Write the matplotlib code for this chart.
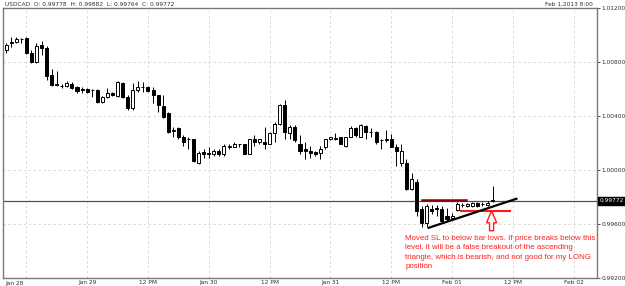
import numpy as np
import matplotlib.pyplot as plt
from matplotlib.patches import Polygon
import matplotlib.transforms as mtransforms

# USDCAD H1 bars, Jan 28 08:00 .. Feb 1 08:00
opens = [1.00888, 1.00940, 1.00947, 1.00970, 1.00977, 1.00865, 1.00798, 1.00925, 1.00903, 1.00702,
         1.00627, 1.00620, 1.00620, 1.00635, 1.00613, 1.00598, 1.00598, 1.00590, 1.00590, 1.00501,
         1.00538, 1.00568, 1.00546, 1.00642, 1.00538, 1.00457, 1.00590, 1.00613, 1.00613, 1.00590,
         1.00553, 1.00471, 1.00419, 1.00286, 1.00308, 1.00241, 1.00226, 1.00226, 1.00055, 1.00137,
         1.00129, 1.00115, 1.00144, 1.00115, 1.00174, 1.00174, 1.00189, 1.00189, 1.00122, 1.00226,
         1.00204, 1.00211, 1.00196, 1.00271, 1.00338, 1.00479, 1.00271, 1.00315, 1.00196, 1.00159,
         1.00144, 1.00137, 1.00129, 1.00167, 1.00233, 1.00233, 1.00241, 1.00181, 1.00248, 1.00308,
         1.00248, 1.00323, 1.00278, 1.00278, 1.00219, 1.00219, 1.00233, 1.00167, 1.00055, 1.00055,
         0.99862, 0.99914, 0.99713, 0.99609, 0.99713, 0.99720, 0.99713, 0.99661, 0.99646, 0.99706,
         0.99743, 0.99735, 0.99735, 0.99758, 0.99750, 0.99743, 0.99778]
highs = [1.00940, 1.00984, 1.00984, 1.00977, 1.00984, 1.00888, 1.00940, 1.00955, 1.00917, 1.00746,
         1.00732, 1.00635, 1.00657, 1.00650, 1.00620, 1.00613, 1.00605, 1.00598, 1.00598, 1.00546,
         1.00605, 1.00575, 1.00657, 1.00650, 1.00553, 1.00642, 1.00657, 1.00650, 1.00620, 1.00613,
         1.00553, 1.00553, 1.00427, 1.00315, 1.00315, 1.00256, 1.00241, 1.00233, 1.00144, 1.00159,
         1.00167, 1.00152, 1.00152, 1.00189, 1.00196, 1.00211, 1.00196, 1.00196, 1.00233, 1.00256,
         1.00233, 1.00315, 1.00278, 1.00352, 1.00486, 1.00516, 1.00330, 1.00330, 1.00256, 1.00204,
         1.00181, 1.00144, 1.00181, 1.00233, 1.00248, 1.00271, 1.00248, 1.00248, 1.00323, 1.00315,
         1.00338, 1.00330, 1.00308, 1.00286, 1.00233, 1.00293, 1.00263, 1.00189, 1.00189, 1.00085,
         0.99981, 0.99936, 0.99735, 0.99750, 0.99743, 0.99743, 0.99735, 0.99720, 0.99683, 0.99765,
         0.99758, 0.99758, 0.99765, 0.99765, 0.99765, 0.99772, 0.99882]
lows = [1.00865, 1.00910, 1.00940, 1.00940, 1.00858, 1.00791, 1.00791, 1.00851, 1.00665, 1.00620,
        1.00620, 1.00605, 1.00613, 1.00598, 1.00568, 1.00568, 1.00568, 1.00538, 1.00494, 1.00494,
        1.00531, 1.00546, 1.00538, 1.00531, 1.00442, 1.00442, 1.00575, 1.00575, 1.00575, 1.00494,
        1.00427, 1.00382, 1.00271, 1.00241, 1.00233, 1.00181, 1.00159, 1.00062, 1.00048, 1.00092,
        1.00092, 1.00107, 1.00107, 1.00107, 1.00159, 1.00167, 1.00174, 1.00115, 1.00115, 1.00181,
        1.00196, 1.00159, 1.00189, 1.00204, 1.00330, 1.00233, 1.00233, 1.00204, 1.00122, 1.00085,
        1.00092, 1.00107, 1.00085, 1.00159, 1.00219, 1.00219, 1.00189, 1.00174, 1.00241, 1.00248,
        1.00241, 1.00233, 1.00241, 1.00196, 1.00159, 1.00211, 1.00167, 1.00033, 1.00033, 0.99854,
        0.99854, 0.99661, 0.99579, 0.99579, 0.99676, 0.99661, 0.99609, 0.99624, 0.99631, 0.99698,
        0.99728, 0.99728, 0.99728, 0.99728, 0.99735, 0.99735, 0.99764]
closes = [1.00925, 1.00947, 1.00970, 1.00970, 1.00865, 1.00798, 1.00917, 1.00903, 1.00694, 1.00627,
          1.00635, 1.00620, 1.00642, 1.00605, 1.00583, 1.00590, 1.00575, 1.00590, 1.00501, 1.00538,
          1.00568, 1.00553, 1.00650, 1.00538, 1.00457, 1.00590, 1.00613, 1.00613, 1.00583, 1.00553,
          1.00479, 1.00390, 1.00278, 1.00300, 1.00241, 1.00204, 1.00233, 1.00070, 1.00129, 1.00122,
          1.00115, 1.00144, 1.00115, 1.00181, 1.00174, 1.00189, 1.00189, 1.00122, 1.00226, 1.00204,
          1.00226, 1.00196, 1.00271, 1.00338, 1.00479, 1.00278, 1.00315, 1.00219, 1.00144, 1.00144,
          1.00129, 1.00122, 1.00159, 1.00226, 1.00241, 1.00233, 1.00196, 1.00241, 1.00308, 1.00256,
          1.00330, 1.00278, 1.00278, 1.00211, 1.00219, 1.00233, 1.00167, 1.00144, 1.00144, 0.99862,
          0.99936, 0.99698, 0.99609, 0.99735, 0.99698, 0.99713, 0.99624, 0.99639, 0.99661, 0.99750,
          0.99743, 0.99750, 0.99758, 0.99735, 0.99750, 0.99758, 0.99772]

last_price = 0.99772
title = "USDCAD  O: 0.99778  H: 0.99882  L: 0.99764  C: 0.99772"
x_ticks = [16, 28, 40, 52, 64, 76, 88, 100, 112]
x_labels = ["Jan 29", "12 PM", "Jan 30", "12 PM", "Jan 31", "12 PM", "Feb 01", "12 PM", "Feb 02"]
y_ticks = [0.992, 0.996, 1.000, 1.004, 1.008, 1.012]
y_labels = ["0.99200", "0.99600", "1.00000", "1.00400", "1.00800", "1.01200"]

note = ("Moved SL to below bar lows. If price breaks below this\n"
        "level, it will be a false breakout of the ascending\n"
        "triangle, which is bearish, and not good for my LONG\n"
        "position")

opens = np.array(opens); highs = np.array(highs)
lows = np.array(lows); closes = np.array(closes)
idx = np.arange(len(opens))

fig = plt.figure(figsize=(6.25, 2.86), dpi=100)
ax = fig.add_axes([3 / 625, 8 / 286, 594 / 625, 270 / 286])

# grid
for gx in range(4, 116, 12):
    ax.axvline(gx, color='#d4d4d4', lw=0.6, ls=(0, (3, 3)), zorder=0)
for gy in [0.996, 1.000, 1.004, 1.008]:
    ax.axhline(gy, color='#d4d4d4', lw=0.6, ls=(0, (3, 3)), zorder=0)

# current price line
ax.axhline(last_price, color='#505050', lw=0.9, zorder=1)

# candles
ax.vlines(idx, lows, highs, color='black', lw=0.7, zorder=2)
up = closes >= opens
bottom = np.minimum(opens, closes)
height = np.maximum(np.abs(closes - opens), 0.000005)
ax.bar(idx[up], height[up], bottom=bottom[up], width=0.6, color='white',
       edgecolor='black', lw=0.7, zorder=3)
ax.bar(idx[~up], height[~up], bottom=bottom[~up], width=0.6, color='black',
       edgecolor='black', lw=0.7, zorder=3)

# annotations
ax.plot([82.0, 90.8], [0.99776, 0.99776], color='#8b0000', lw=1.8, zorder=4)
ax.plot([89.7, 99.5], [0.99698, 0.99698], color='#ff1a1a', lw=1.5, zorder=4)
ax.plot([83.4, 100.7], [0.99572, 0.99787], color='black', lw=1.6, zorder=4)
arrow = Polygon([[95.8, 0.99698], [96.8, 0.99609], [96.2, 0.99609], [96.2, 0.99550],
                 [95.4, 0.99550], [95.4, 0.99609], [94.8, 0.99609]],
                closed=True, fill=False, edgecolor='#ff1a1a', lw=1.0, zorder=4)
ax.add_patch(arrow)
ax.text(78.8, 0.99520, note, color='#ff2020', fontsize=5.7, va='top', ha='left',
        linespacing=1.5, family='Liberation Sans', zorder=5)

ax.set_xlim(-0.6, 116.6)
ax.set_ylim(0.992, 1.012)

ax.set_xticks(x_ticks)
ax.set_xticklabels(x_labels)
ax.yaxis.tick_right()
ax.set_yticks(y_ticks)
ax.set_yticklabels(y_labels)
ax.tick_params(axis='both', labelsize=4.2, length=2, width=0.6, colors='#303030', pad=1.5)
ax.tick_params(axis='x', length=0)
for s in ax.spines.values():
    s.set_color('#7a7a7a')
    s.set_linewidth(1.0)

ax.text(-0.2, -0.012, "Jan 28", transform=mtransforms.blended_transform_factory(ax.transData, ax.transAxes),
        fontsize=4.2, color='#303030', va='top', ha='left')

# price tag on the right axis
tag_tr = mtransforms.blended_transform_factory(ax.transAxes, ax.transData)
ax.text(1.004, last_price, "0.99772", transform=tag_tr, fontsize=4.2, color='white',
        va='center', ha='left', bbox=dict(boxstyle='square,pad=0.25', fc='black', ec='black'),
        clip_on=False)

fig.text(5 / 625, 1 - 4 / 286, title, fontsize=4.2, color='#303030', va='center', ha='left')
fig.text(593 / 625, 1 - 4 / 286, "Feb 1,2013 8:00", fontsize=4.2, color='#303030', va='center', ha='right')

fig.savefig("out.png", dpi=100)
